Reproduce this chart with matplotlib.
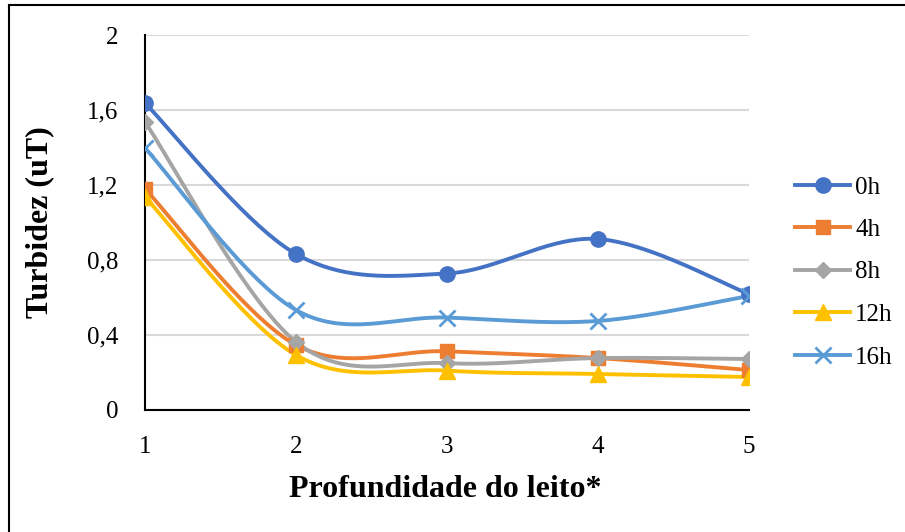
import numpy as np
import matplotlib.pyplot as plt
from matplotlib.lines import Line2D

# -------------------------------
# Data
# -------------------------------
profundidade = [1, 2, 3, 4, 5]
series_labels = ["0h", "4h", "8h", "12h", "16h"]
turb_0h = [1.637, 0.832, 0.728, 0.912, 0.619]
turb_4h = [1.179, 0.347, 0.313, 0.277, 0.213]
turb_8h = [1.536, 0.363, 0.250, 0.277, 0.272]
turb_12h = [1.136, 0.293, 0.210, 0.192, 0.176]
turb_16h = [1.397, 0.533, 0.493, 0.475, 0.608]

colors = ["#4472C4", "#ED7D31", "#A5A5A5", "#FFC000", "#5B9BD5"]
markers = ["o", "s", "D", "^", "x"]
msizes = [11, 10, 8, 11, 11]


def smooth(x, y, n=40):
    # Excel-like smoothing (Catmull-Rom via bezier)
    p = np.column_stack([x, y]).astype(float)
    p = np.vstack([p[0], p, p[-1]])
    out = []
    for i in range(1, len(p) - 2):
        p0, p1, p2, p3 = p[i - 1], p[i], p[i + 1], p[i + 2]
        b1 = p1 + (p2 - p0) / 6
        b2 = p2 - (p3 - p1) / 6
        t = np.linspace(0, 1, n)[:, None]
        seg = ((1 - t) ** 3) * p1 + 3 * ((1 - t) ** 2) * t * b1 + 3 * (1 - t) * t ** 2 * b2 + t ** 3 * p2
        out.append(seg if i == 1 else seg[1:])
    out = np.vstack(out)
    return out[:, 0], out[:, 1]


plt.rcParams["font.family"] = ["Liberation Serif", "DejaVu Serif"]

fig = plt.figure(figsize=(9.05, 5.32), dpi=100)
ax = fig.add_axes([145 / 905, 1 - 410 / 532, 604 / 905, 375 / 532])

all_series = [turb_0h, turb_4h, turb_8h, turb_12h, turb_16h]
handles = []
for vals, lab, c, m, ms in zip(all_series, series_labels, colors, markers, msizes):
    sx, sy = smooth(profundidade, vals)
    ax.plot(sx, sy, color=c, lw=2.8, solid_capstyle="round", zorder=3)
    mew = 2 if m == "x" else 1
    ax.plot(profundidade, vals, ls="none", marker=m, color=c, ms=ms, mew=mew, zorder=4)
    handles.append(Line2D([0], [0], color=c, lw=2.8, marker=m, ms=ms, mew=mew, label=lab))

ax.set_xlim(1, 5)
ax.set_ylim(0, 2)
ax.set_yticks([0, 0.4, 0.8, 1.2, 1.6, 2])
ax.set_yticklabels(["0", "0,4", "0,8", "1,2", "1,6", "2"])
ax.set_xticks(profundidade)
ax.grid(axis="y", color="#D9D9D9", lw=1.5)
ax.set_axisbelow(True)
ax.tick_params(length=0, labelsize=18, pad=19)
ax.tick_params(axis="x", pad=19)
for s in ["top", "right"]:
    ax.spines[s].set_visible(False)
ax.spines["left"].set_linewidth(1.5)
ax.spines["bottom"].set_linewidth(1.5)

ax.set_xlabel("Profundidade do leito*", fontsize=23, fontweight="bold")
ax.set_ylabel("Turbidez (uT)", fontsize=23, fontweight="bold")
ax.xaxis.set_label_coords((445 - 145) / 604, -(475 - 410) / 375)
ax.yaxis.set_label_coords(-(145 - 54) / 604, (410 - 222) / 375)

fig.legend(handles=handles, loc="upper left", bbox_to_anchor=(785 / 905, 1 - 166 / 532),
           frameon=False, fontsize=18, handlelength=2.2, handletextpad=0.2,
           labelspacing=0.8, borderaxespad=0)

# figure border (only left and top visible)
fig.add_artist(Line2D([9 / 905, 9 / 905], [0, 1 - 5 / 532], color="black", lw=1.5))
fig.add_artist(Line2D([9 / 905, 1], [1 - 5 / 532, 1 - 5 / 532], color="black", lw=1.5))

fig.savefig("out.png", dpi=100)
